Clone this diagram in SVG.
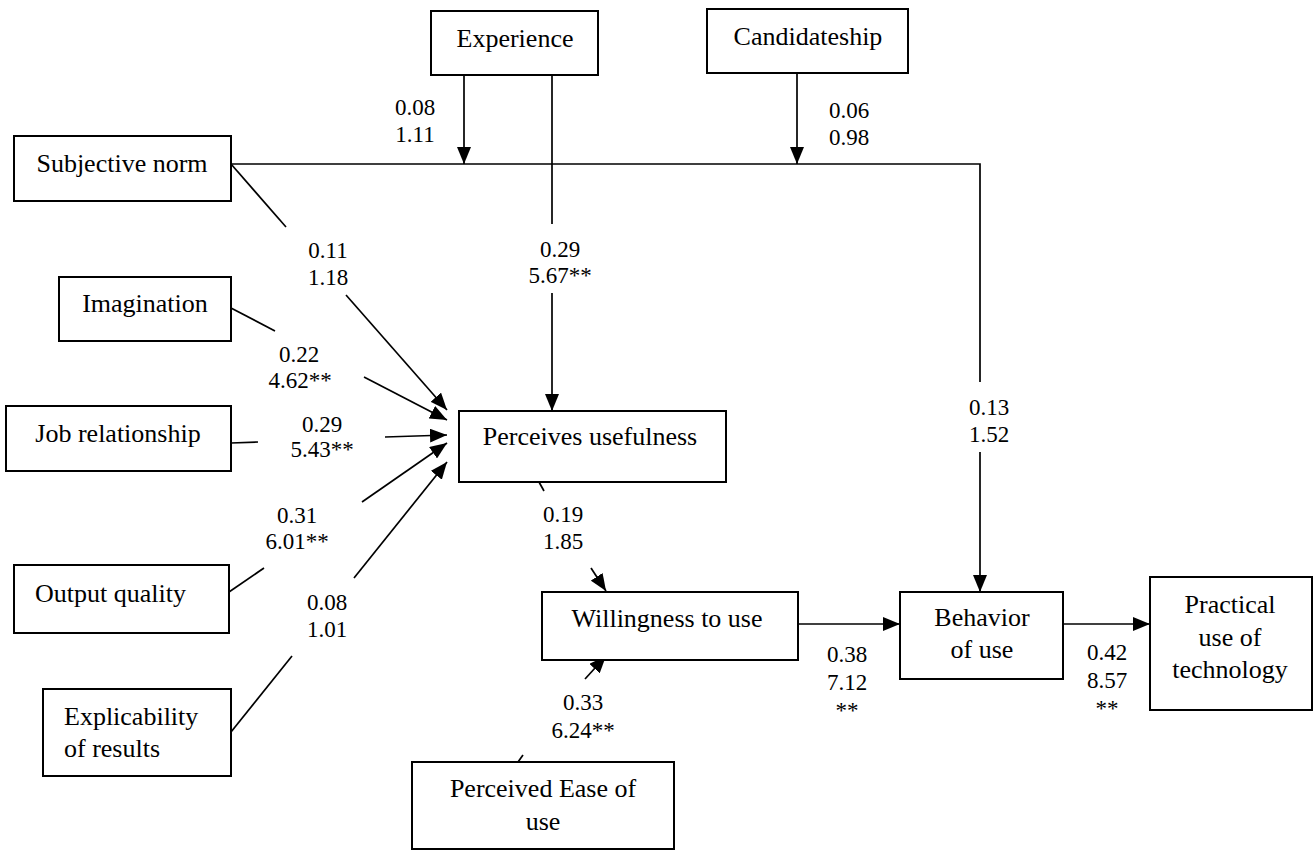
<svg xmlns="http://www.w3.org/2000/svg" width="1315" height="851" viewBox="0 0 1315 851">
<style>
.box{fill:#fff;stroke:#000;stroke-width:2}
.n{font-family:'Times New Roman','Liberation Serif',Tinos,serif;font-size:26px;fill:#000;text-anchor:middle}
.s{text-anchor:start}
.l{font-family:'Times New Roman','Liberation Serif',Tinos,serif;font-size:23px;fill:#000;text-anchor:middle}
.c{fill:none;stroke:#000;stroke-width:1.7}
.a{marker-end:url(#ah)}
</style>
<defs>
<marker id="ah" markerUnits="userSpaceOnUse" markerWidth="17" markerHeight="14" refX="17" refY="7" orient="auto"><path d="M0,0 L17,7 L0,14 z" fill="#000"/></marker>
</defs>
<rect width="1315" height="851" fill="#fff"/>
<g id="connectors">
<path class="c" d="M231,164 H980 V382"/>
<path class="c a" d="M980,452 V592"/>
<path class="c a" d="M464,75 V164"/>
<path class="c a" d="M797,73 V164"/>
<path class="c" d="M552,75 V224"/>
<path class="c a" d="M552,293 V411"/>
<path class="c" d="M231,164 L286,227"/>
<path class="c a" d="M346,295 L447,410"/>
<path class="c" d="M231,308 L275,331"/>
<path class="c a" d="M364,377 L447,420"/>
<path class="c" d="M231,443 L258,442"/>
<path class="c a" d="M385,437 L447,435"/>
<path class="c" d="M229,592 L264,568"/>
<path class="c a" d="M362,502 L447,443"/>
<path class="c" d="M231,732 L292,656"/>
<path class="c a" d="M354,578 L447,462"/>
<path class="c" d="M539,482 L544,491"/>
<path class="c a" d="M591,568 L606,591"/>
<path class="c" d="M518,762 L523,755"/>
<path class="c a" d="M585,679 L606,656"/>
<path class="c a" d="M798,624 H900"/>
<path class="c a" d="M1063,624 H1150"/>
<text class="l" x="415" y="115">0.08</text><text class="l" x="415" y="142">1.11</text>
<text class="l" x="849" y="118">0.06</text><text class="l" x="849" y="145">0.98</text>
<text class="l" x="328" y="258">0.11</text><text class="l" x="328" y="285">1.18</text>
<text class="l" x="560" y="257">0.29</text><text class="l" x="560" y="283">5.67**</text>
<text class="l" x="299" y="362">0.22</text><text class="l" x="300" y="388">4.62**</text>
<text class="l" x="322" y="432">0.29</text><text class="l" x="322" y="457">5.43**</text>
<text class="l" x="297" y="523">0.31</text><text class="l" x="297" y="549">6.01**</text>
<text class="l" x="327" y="610">0.08</text><text class="l" x="327" y="637">1.01</text>
<text class="l" x="563" y="522">0.19</text><text class="l" x="563" y="549">1.85</text>
<text class="l" x="989" y="415">0.13</text><text class="l" x="989" y="442">1.52</text>
<text class="l" x="583" y="710">0.33</text><text class="l" x="583" y="738">6.24**</text>
<text class="l" x="847" y="662">0.38</text><text class="l" x="847" y="690">7.12</text><text class="l" x="847" y="718">**</text>
<text class="l" x="1107" y="660">0.42</text><text class="l" x="1107" y="688">8.57</text><text class="l" x="1107" y="716">**</text>
</g>
<g id="experience"><rect class="box" x="431" y="11" width="167" height="64"/><text class="n" x="515" y="47">Experience</text></g>
<g id="candidateship"><rect class="box" x="707" y="9" width="201" height="64"/><text class="n" x="808" y="45">Candidateship</text></g>
<g id="subjective-norm"><rect class="box" x="14" y="136" width="217" height="65"/><text class="n" x="122" y="172">Subjective norm</text></g>
<g id="imagination"><rect class="box" x="59" y="277" width="172" height="64"/><text class="n" x="145" y="312">Imagination</text></g>
<g id="job-relationship"><rect class="box" x="6" y="406" width="225" height="65"/><text class="n" x="118" y="442">Job relationship</text></g>
<g id="output-quality"><rect class="box" x="14" y="565" width="215" height="68"/><text class="n s" x="35" y="602">Output quality</text></g>
<g id="explicability"><rect class="box" x="43" y="689" width="188" height="87"/><text class="n s" x="64" y="725">Explicability</text><text class="n s" x="64" y="757">of results</text></g>
<g id="perceived-usefulness"><rect class="box" x="459" y="411" width="267" height="71"/><text class="n" x="590" y="445">Perceives usefulness</text></g>
<g id="willingness"><rect class="box" x="542" y="592" width="256" height="68"/><text class="n" x="667" y="627">Willingness to use</text></g>
<g id="ease-of-use"><rect class="box" x="412" y="762" width="262" height="87"/><text class="n" x="543" y="797">Perceived Ease of</text><text class="n" x="543" y="830">use</text></g>
<g id="behavior"><rect class="box" x="900" y="592" width="163" height="87"/><text class="n" x="982" y="626">Behavior</text><text class="n" x="982" y="658">of use</text></g>
<g id="practical"><rect class="box" x="1150" y="577" width="162" height="133"/><text class="n" x="1230" y="613">Practical</text><text class="n" x="1230" y="646">use of</text><text class="n" x="1230" y="678">technology</text></g>
</svg>
